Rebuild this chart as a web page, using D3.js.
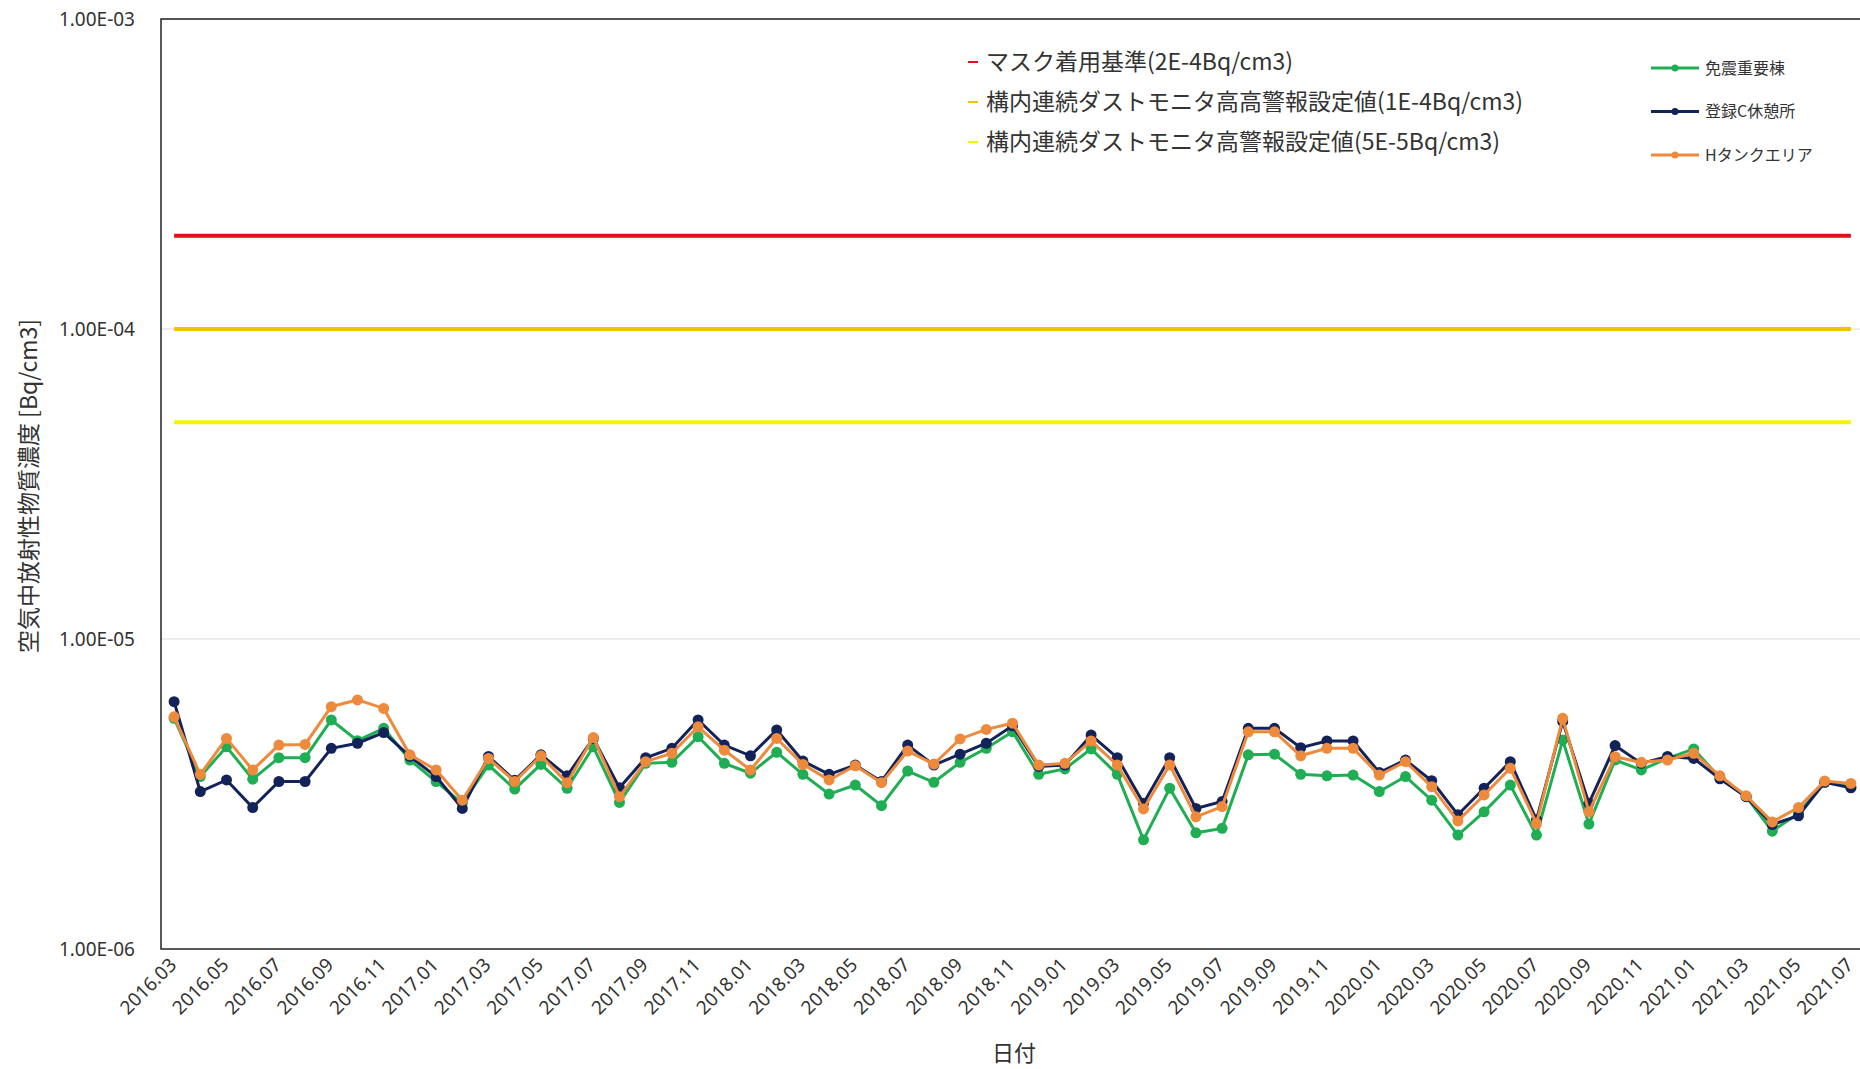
<!DOCTYPE html>
<html>
<head>
<meta charset="utf-8">
<script src="https://cdn.jsdelivr.net/npm/d3@7"></script>
<style>
  body { margin: 0; background: #fff; }
  svg { display: block; font-family: "Noto Sans CJK JP", sans-serif; }
</style>
</head>
<body>
<svg id="chart" width="1860" height="1069"></svg>
<script>
// 月ラベル
const months = [
  "2016.03","2016.04","2016.05","2016.06","2016.07","2016.08","2016.09","2016.10","2016.11","2016.12",
  "2017.01","2017.02","2017.03","2017.04","2017.05","2017.06","2017.07","2017.08","2017.09","2017.10","2017.11","2017.12",
  "2018.01","2018.02","2018.03","2018.04","2018.05","2018.06","2018.07","2018.08","2018.09","2018.10","2018.11","2018.12",
  "2019.01","2019.02","2019.03","2019.04","2019.05","2019.06","2019.07","2019.08","2019.09","2019.10","2019.11","2019.12",
  "2020.01","2020.02","2020.03","2020.04","2020.05","2020.06","2020.07","2020.08","2020.09","2020.10","2020.11","2020.12",
  "2021.01","2021.02","2021.03","2021.04","2021.05","2021.06","2021.07"
];

// 免震重要棟
const menshin = [
  5.55e-6,3.6e-6,4.49e-6,3.53e-6,4.14e-6,4.14e-6,5.48e-6,4.7e-6,5.15e-6,4.07e-6,3.47e-6,2.95e-6,3.92e-6,
  3.28e-6,3.94e-6,3.30e-6,4.49e-6,2.97e-6,3.97e-6,4.00e-6,4.84e-6,3.97e-6,3.69e-6,4.31e-6,3.66e-6,3.16e-6,
  3.38e-6,2.90e-6,3.75e-6,3.45e-6,4.00e-6,4.44e-6,5.02e-6,3.66e-6,3.81e-6,4.42e-6,3.66e-6,2.25e-6,3.30e-6,
  2.37e-6,2.45e-6,4.23e-6,4.25e-6,3.66e-6,3.62e-6,3.64e-6,3.22e-6,3.60e-6,3.02e-6,2.33e-6,2.77e-6,3.38e-6,
  2.33e-6,4.72e-6,2.53e-6,4.07e-6,3.78e-6,4.12e-6,4.42e-6,3.56e-6,3.10e-6,2.40e-6,2.74e-6,3.45e-6,3.34e-6
];

// 登録C休憩所
const kyukei = [
  6.28e-6,3.22e-6,3.51e-6,2.86e-6,3.47e-6,3.47e-6,4.44e-6,4.61e-6,4.99e-6,4.18e-6,3.60e-6,2.84e-6,4.18e-6,
  3.50e-6,4.23e-6,3.62e-6,4.78e-6,3.31e-6,4.14e-6,4.44e-6,5.48e-6,4.55e-6,4.20e-6,5.09e-6,4.04e-6,3.66e-6,
  3.92e-6,3.47e-6,4.55e-6,3.92e-6,4.25e-6,4.61e-6,5.25e-6,3.88e-6,3.92e-6,4.90e-6,4.14e-6,2.95e-6,4.14e-6,
  2.84e-6,2.99e-6,5.15e-6,5.15e-6,4.46e-6,4.69e-6,4.69e-6,3.71e-6,4.07e-6,3.49e-6,2.71e-6,3.30e-6,4.02e-6,
  2.61e-6,5.42e-6,2.95e-6,4.53e-6,3.97e-6,4.18e-6,4.12e-6,3.54e-6,3.10e-6,2.52e-6,2.69e-6,3.45e-6,3.31e-6
];

// Hタンクエリア
const htank = [
  5.61e-6,3.66e-6,4.78e-6,3.78e-6,4.55e-6,4.57e-6,6.05e-6,6.36e-6,5.97e-6,4.23e-6,3.78e-6,3.02e-6,4.12e-6,
  3.47e-6,4.20e-6,3.44e-6,4.81e-6,3.10e-6,4.02e-6,4.28e-6,5.21e-6,4.38e-6,3.78e-6,4.78e-6,3.94e-6,3.51e-6,
  3.90e-6,3.44e-6,4.35e-6,3.95e-6,4.76e-6,5.11e-6,5.35e-6,3.92e-6,3.97e-6,4.69e-6,3.92e-6,2.83e-6,3.92e-6,
  2.67e-6,2.88e-6,5.02e-6,5.02e-6,4.20e-6,4.44e-6,4.44e-6,3.64e-6,4.02e-6,3.34e-6,2.59e-6,3.14e-6,3.83e-6,
  2.54e-6,5.55e-6,2.77e-6,4.17e-6,4.00e-6,4.07e-6,4.28e-6,3.62e-6,3.12e-6,2.57e-6,2.86e-6,3.48e-6,3.42e-6
];

// 基準線
const limitNames = ["マスク着用基準(2E-4Bq/cm3)", "構内連続ダストモニタ高高警報設定値(1E-4Bq/cm3)", "構内連続ダストモニタ高警報設定値(5E-5Bq/cm3)"];
const limitValues = [2e-4, 1e-4, 5e-5];
const limitColors = ["#e3101b", "#f2c200", "#f7f300"];

const seriesNames = ["免震重要棟", "登録C休憩所", "Hタンクエリア"];
const seriesColors = ["#1fae54", "#13235a", "#ee8a3c"];
const seriesData = [menshin, kyukei, htank];

const yTicks = [1e-6, 1e-5, 1e-4, 1e-3];

const svg = d3.select("#chart");
const plotLeft = 161, plotTop = 19, plotBottom = 949, plotRight = 1864;

const x = d3.scalePoint().domain(months).range([plotLeft, plotRight]).padding(0.5);
const y = d3.scaleLog().domain([1e-6, 1e-3]).range([plotBottom, plotTop]);

// grid
svg.append("g").selectAll("line")
  .data(yTicks.slice(1))
  .join("line")
  .attr("x1", plotLeft).attr("x2", 1860)
  .attr("y1", d => y(d)).attr("y2", d => y(d))
  .attr("stroke", "#d9d9d9").attr("stroke-width", 1);

// 枠
svg.append("path")
  .attr("d", `M1860,${plotTop}H${plotLeft}V${plotBottom}H1860`)
  .attr("fill", "none").attr("stroke", "#222").attr("stroke-width", 1.5);

// y axis
function fmt(d) {
  const e = Math.round(Math.log10(d));
  return "1.00E" + (e < 0 ? "-" : "+") + String(Math.abs(e)).padStart(2, "0");
}
const yAxis = svg.append("g")
  .attr("transform", `translate(${plotLeft},0)`)
  .call(d3.axisLeft(y).tickValues(yTicks).tickFormat(fmt).tickSize(0).tickPadding(26));
yAxis.select(".domain").remove();
yAxis.selectAll("text").attr("font-size", 19).attr("fill", "#333")
  .attr("font-family", "'Noto Sans', sans-serif");

// x axis
const xAxis = svg.append("g")
  .attr("transform", `translate(0,${plotBottom})`)
  .call(d3.axisBottom(x).tickValues(months.filter((m, i) => i % 2 === 0)).tickSize(0).tickPadding(0));
xAxis.select(".domain").remove();
xAxis.selectAll("text")
  .attr("font-size", 19).attr("fill", "#333")
  .attr("font-family", "'Noto Sans', sans-serif")
  .attr("text-anchor", "end")
  .attr("dy", 0)
  .attr("y", 0)
  .attr("transform", "translate(3,17) rotate(-45)");

// 基準線
svg.append("g").selectAll("line")
  .data(limitValues)
  .join("line")
  .attr("x1", x(months[0])).attr("x2", x(months[months.length - 1]))
  .attr("y1", d => y(d)).attr("y2", d => y(d))
  .attr("stroke", (d, i) => limitColors[i]).attr("stroke-width", 4);

// series
const line = d3.line().x((d, i) => x(months[i])).y(d => y(d));
seriesData.forEach((data, k) => {
  const g = svg.append("g");
  g.append("path").datum(data)
    .attr("d", line)
    .attr("fill", "none").attr("stroke", seriesColors[k]).attr("stroke-width", 3);
  g.selectAll("circle").data(data).join("circle")
    .attr("cx", (d, i) => x(months[i])).attr("cy", d => y(d))
    .attr("r", 5.5).attr("fill", seriesColors[k]);
});

// 軸タイトル
svg.append("text")
  .attr("transform", "translate(37,486) rotate(-90)")
  .attr("text-anchor", "middle").attr("font-size", 23).attr("fill", "#333")
  .text("空気中放射性物質濃度 [Bq/cm3]");
svg.append("text")
  .attr("x", 1014).attr("y", 1061)
  .attr("text-anchor", "middle").attr("font-size", 22).attr("fill", "#333")
  .text("日付");

// 凡例 (基準線)
const leg1 = svg.append("g").selectAll("g")
  .data(limitNames)
  .join("g")
  .attr("transform", (d, i) => `translate(968,${62 + i * 40})`);
leg1.append("line").attr("x1", 0).attr("x2", 10).attr("y1", 0).attr("y2", 0)
  .attr("stroke", (d, i) => limitColors[i]).attr("stroke-width", 2);
leg1.append("text").attr("x", 18).attr("dy", "0.36em")
  .attr("font-size", 23).attr("fill", "#333").text(d => d);

// 凡例 (系列)
const leg2 = svg.append("g").selectAll("g")
  .data(seriesNames)
  .join("g")
  .attr("transform", (d, i) => `translate(1651,${68 + i * 43.5})`);
leg2.append("line").attr("x1", 0).attr("x2", 48).attr("y1", 0).attr("y2", 0)
  .attr("stroke", (d, i) => seriesColors[i]).attr("stroke-width", 3);
leg2.append("circle").attr("cx", 24).attr("r", 3.5).attr("fill", (d, i) => seriesColors[i]);
leg2.append("text").attr("x", 54).attr("dy", "0.36em")
  .attr("font-size", 16).attr("fill", "#333").text(d => d);
</script>
</body>
</html>
